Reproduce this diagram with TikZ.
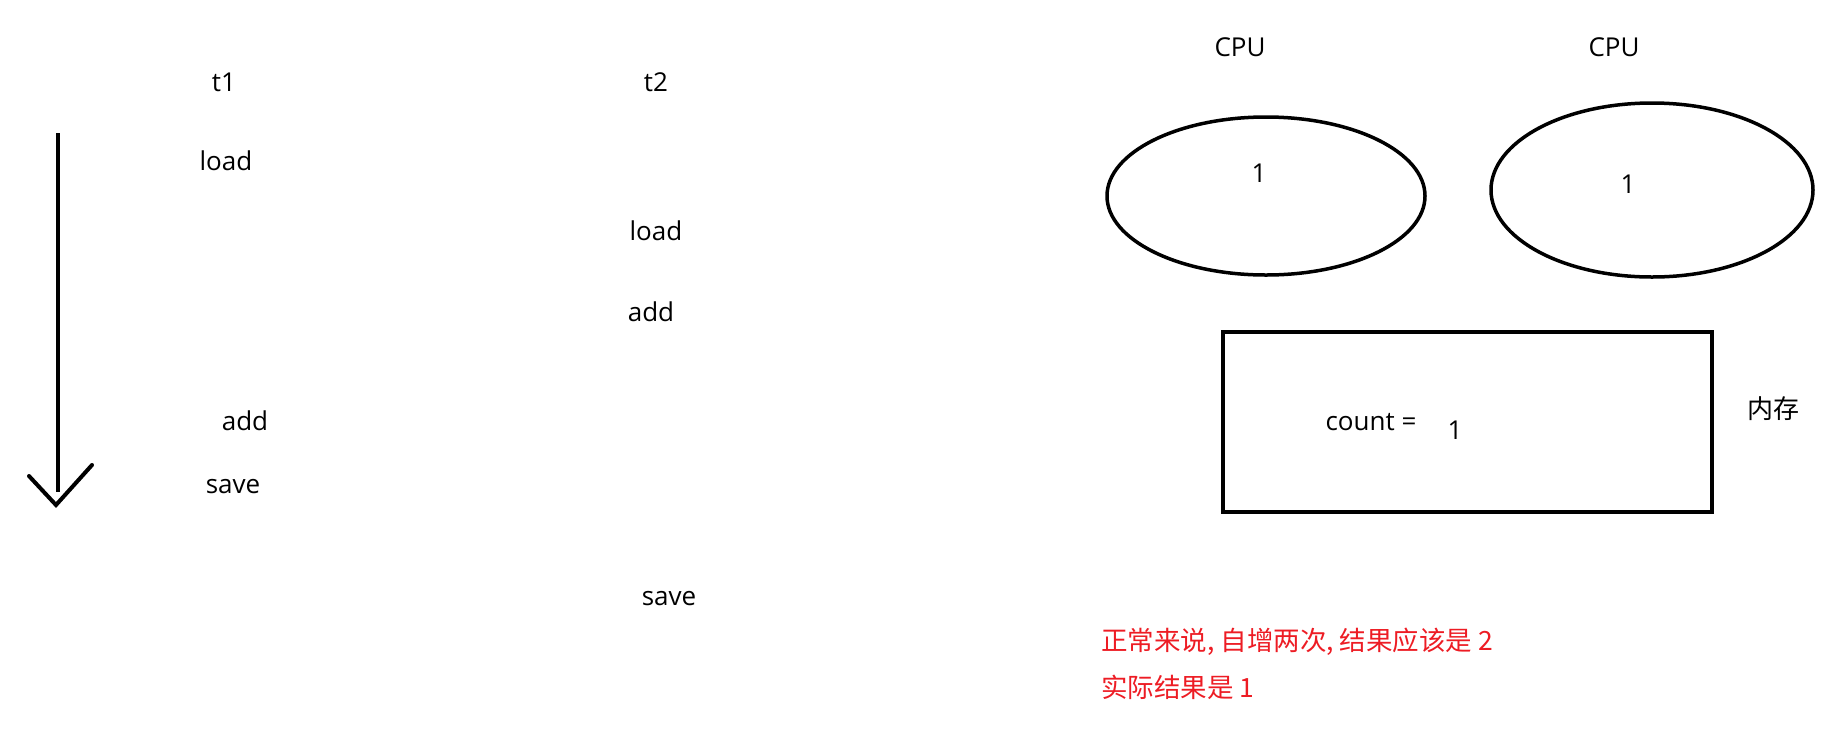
\documentclass[tikz,border=0pt]{standalone}
\usepackage{fontspec}
\setmainfont{Open Sans}
\newfontfamily\cjk{Noto Sans CJK SC}
\usetikzlibrary{shapes.geometric}
\definecolor{paintred}{RGB}{237,28,36}
\tikzset{
  lbl/.style={inner sep=0pt, font=\fontsize{26}{31}\selectfont},
  redtxt/.style={inner sep=0pt, anchor=west, text=paintred, font=\cjk\fontsize{26.5}{31}\selectfont},
  cpu/.style={draw, line width=3.5pt, ellipse, inner sep=0pt},
}
\begin{document}
\begin{tikzpicture}[x=1pt, y=-1pt]
\useasboundingbox (0,0) rectangle (1837,732);
% time arrow
\coordinate (atop) at (58,133);
\coordinate (abot) at (58,492);
\coordinate (tip) at (56,505);
\coordinate (hl) at (29,476);
\coordinate (hr) at (92,465);
\draw[line width=4pt] (atop) -- (abot);
\draw[line width=4pt, line cap=round, line join=miter] (hl) -- (tip) -- (hr);
% thread columns
\node[lbl] (t1) at (224,82) {t1};
\node[lbl] (t2) at (656,82) {t2};
\node[lbl] (load1) at (226,161) {load};
\node[lbl] (load2) at (656,231) {load};
\node[lbl] (add2) at (651,312) {add};
\node[lbl] (add1) at (245,421) {add};
\node[lbl] (save1) at (233,487) {save};
\node[lbl] (save2) at (669,599) {save};
% CPUs
\node[lbl] (cpu1lbl) at (1240,47) {CPU};
\node[lbl] (cpu2lbl) at (1614,47) {CPU};
\node[cpu, minimum width=318pt, minimum height=158pt] (cpu1) at (1266,196) {};
\node[cpu, minimum width=322pt, minimum height=174pt] (cpu2) at (1652,190) {};
\node[lbl] (v1) at (1259,173) {1};
\node[lbl] (v2) at (1628,184) {1};
% memory
\node[draw, line width=4pt, minimum width=489pt, minimum height=180pt, inner sep=0pt] (mem) at (1467.5,422) {};
\node[lbl] (cnt) at (1371,422) {count =};
\node[lbl] (cntv) at (1455,430) {1};
\node[lbl, font=\cjk\fontsize{26}{31}\selectfont] (memlbl) at (1773,409) {内存};
% notes
\node[redtxt] (note1) at (1101,642) {正常来说, 自增两次, 结果应该是 2};
\node[redtxt] (note2) at (1101,687) {实际结果是 1};
\end{tikzpicture}
\end{document}
